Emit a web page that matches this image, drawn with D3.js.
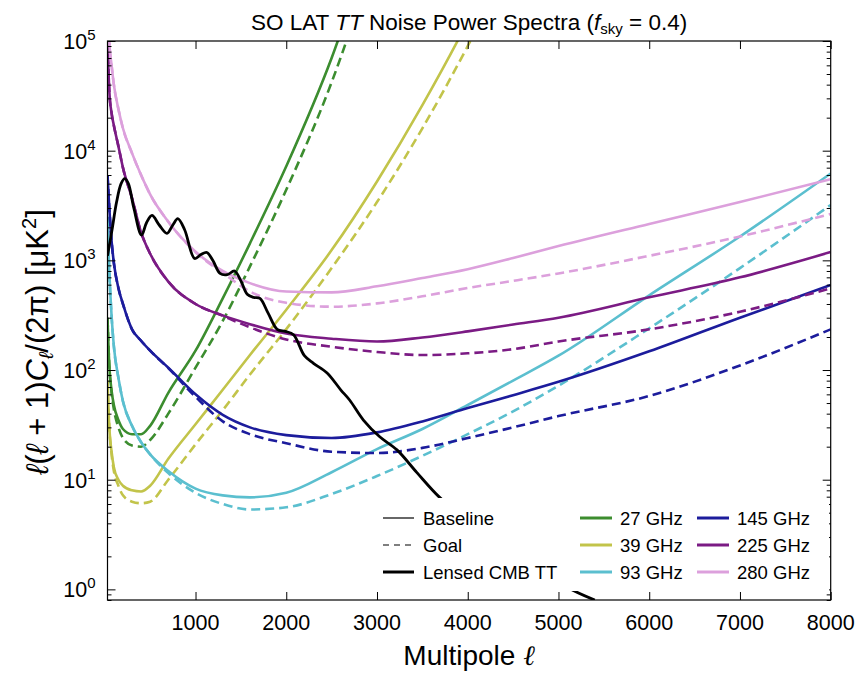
<!DOCTYPE html>
<html>
<head>
<meta charset="utf-8">
<script src="https://cdn.jsdelivr.net/npm/d3@7"></script>
<style>
  body { margin: 0; background: #fff; }
  text { font-family: "Liberation Sans", Arial, sans-serif; }
</style>
</head>
<body>
<div id="my_datavis"></div>
<script>
var ell = [30, 50, 75, 100, 150, 200, 300, 400, 500, 700, 1000, 1300, 1600, 2000, 2500, 3000, 3500, 4000, 4500, 5000, 6000, 7000, 8000];

var n27Base  = [300, 110, 65, 48, 35, 29, 26, 26, 31, 62, 150, 450, 1430, 7200, 70000, 1.2e6, null, null, null, null, null, null, null];
var n27Goal  = [300, 110, 62, 44, 30, 24, 20.5, 20, 23, 40, 105, 280, 880, 4400, 42000, 7e5, null, null, null, null, null, null, null];
var n39Base  = [80, 30, 18, 13, 10, 8.8, 8.0, 7.8, 8.8, 15.5, 32, 66, 137, 355, 1240, 5240, 26000, 152000, 1.2e6, null, null, null, null];
var n39Goal  = [80, 30, 17, 12, 8.8, 7.2, 6.3, 6.1, 6.3, 10, 21, 43, 91, 236, 850, 3400, 16000, 90000, 6e5, null, null, null, null];
var n93Base  = [2500, 800, 310, 165, 85, 52, 31, 22, 17, 12, 8.3, 7.2, 6.9, 7.6, 11.7, 19, 29, 48, 80, 135, 480, 1650, 6200];
var n93Goal  = [2500, 800, 310, 165, 85, 52, 31, 22, 17, 11.5, 7.6, 6.0, 5.35, 5.6, 7.4, 10.8, 16.5, 26, 42, 72, 240, 850, 3200];
var n145Base = [6000, 3000, 1500, 950, 560, 400, 235, 185, 150, 105, 60, 39, 30, 25.5, 24, 27, 34, 45, 59, 78, 148, 300, 595];
var n145Goal = [6000, 3000, 1500, 950, 560, 400, 235, 185, 150, 104, 57, 34, 26, 21.5, 18, 17.5, 19.5, 24, 30, 38, 58, 110, 235];
var n225Base = [1e5, 35000, 22000, 17000, 11000, 7000, 3700, 1800, 1150, 640, 400, 315, 262, 215, 193, 182, 198, 225, 260, 300, 460, 700, 1190];
var n225Goal = [1e5, 35000, 22000, 17000, 11000, 7000, 3700, 1800, 1150, 640, 400, 312, 245, 190, 163, 146, 137, 142, 155, 182, 235, 340, 556];
var n280Base = [2e5, 95000, 60000, 40000, 24000, 16000, 9500, 6000, 4000, 2250, 1200, 800, 620, 520, 510, 580, 690, 830, 1050, 1350, 2150, 3400, 5500];
var n280Goal = [2e5, 95000, 60000, 40000, 24000, 16000, 9500, 6000, 4000, 2250, 1190, 770, 520, 410, 378, 405, 470, 560, 650, 760, 1100, 1650, 2650];

// lensed CMB TT spectrum
var cmbEll = [30, 80, 130, 180, 220, 260, 320, 405, 460, 520, 600, 685, 750, 805, 880, 990, 1060, 1125, 1190, 1270, 1350, 1430, 1500, 1570, 1640, 1710, 1800, 1900, 1990, 2080, 2200, 2300, 2450, 2600, 2700, 2850, 3030, 3220, 3440, 3690, 4000, 4500, 5100, 5400];
var cmbDl  = [1100, 1900, 3400, 5000, 5550, 5000, 3000, 1700, 2200, 2570, 2100, 1760, 2100, 2400, 1900, 1040, 1130, 1180, 1000, 760, 740, 800, 650, 490, 460, 450, 330, 235, 225, 210, 135, 115, 94, 66, 53, 35, 24.6, 18.7, 11.6, 6.9, 4.2, 2.2, 1.04, 0.8];

var freqs   = ["27 GHz", "39 GHz", "93 GHz", "145 GHz", "225 GHz", "280 GHz"];
var colors  = ["#3c8d2f", "#c2c44a", "#5bbfcf", "#1c1c9c", "#7b1b84", "#dca0dc"];
var baseline = [n27Base, n39Base, n93Base, n145Base, n225Base, n280Base];
var goal     = [n27Goal, n39Goal, n93Goal, n145Goal, n225Goal, n280Goal];

var xTicks = [1000, 2000, 3000, 4000, 5000, 6000, 7000, 8000];
var yDecades = [0, 1, 2, 3, 4, 5];

var margin = { top: 41, bottom: 73, left: 107.5, right: 29.3 },
  width = 860 - margin.left - margin.right,
  height = 673 - margin.top - margin.bottom;

var root = d3.select("#my_datavis")
  .append("svg")
  .attr("width", 860)
  .attr("height", 673);

var svg = root.append("g")
  .attr("transform", "translate(" + margin.left + "," + margin.top + ")");

var x = d3.scaleLinear().domain([30, 8000]).range([0, width]);
var y = d3.scaleLog().domain([0.8, 1e5]).range([height, 0]);

svg.append("clipPath").attr("id", "clip")
  .append("rect").attr("width", width).attr("height", height);

var line = d3.line()
  .defined(function(d) { return d[1] != null })
  .curve(d3.curveMonotoneX)
  .x(function(d) { return x(d[0]) })
  .y(function(d) { return y(d[1]) });

var cmbLine = d3.line()
  .curve(d3.curveCatmullRom.alpha(0.5))
  .x(function(d) { return x(d[0]) })
  .y(function(d) { return y(d[1]) });

var plot = svg.append("g").attr("clip-path", "url(#clip)");

function pairs(xs, ys) {
  return xs.map(function(v, i) { return [v, ys[i]] });
}

freqs.forEach(function(f, i) {
  plot.append("path")
    .datum(pairs(ell, baseline[i]))
    .attr("fill", "none")
    .attr("stroke", colors[i])
    .attr("stroke-width", 2.6)
    .attr("d", line);
  plot.append("path")
    .datum(pairs(ell, goal[i]))
    .attr("fill", "none")
    .attr("stroke", colors[i])
    .attr("stroke-width", 2.6)
    .attr("stroke-dasharray", "9,5")
    .attr("d", line);
});

plot.append("path")
  .datum(pairs(cmbEll, cmbDl))
  .attr("fill", "none")
  .attr("stroke", "#000")
  .attr("stroke-width", 2.8)
  .attr("stroke-linejoin", "round")
  .attr("d", cmbLine);

// axes: ticks point inward on all four sides
var minor = [];
yDecades.forEach(function(d) {
  for (var k = 2; k <= 9; k++) minor.push(k * Math.pow(10, d - 1));
});
minor = minor.filter(function(v) { return v >= 0.8 && v <= 1e5 });
var major = yDecades.map(function(d) { return Math.pow(10, d) });

function tickAxis(axis, vals, size) {
  return axis.tickValues(vals).tickSize(size).tickFormat("");
}

svg.append("g").attr("transform", "translate(0," + height + ")")
  .call(tickAxis(d3.axisBottom(x), xTicks, -8));
svg.append("g")
  .call(tickAxis(d3.axisTop(x), xTicks, -8));
svg.append("g").call(tickAxis(d3.axisLeft(y), major, -8));
svg.append("g").call(tickAxis(d3.axisLeft(y), minor, -4));
svg.append("g").attr("transform", "translate(" + width + ",0)")
  .call(tickAxis(d3.axisRight(y), major, -8));
svg.append("g").attr("transform", "translate(" + width + ",0)")
  .call(tickAxis(d3.axisRight(y), minor, -4));
svg.selectAll(".domain").remove();
svg.selectAll(".tick line").attr("stroke", "#000").attr("stroke-width", 1);

svg.append("rect")
  .attr("width", width).attr("height", height)
  .attr("fill", "none").attr("stroke", "#000").attr("stroke-width", 1.2);

// tick labels
svg.selectAll(".xlab").data(xTicks).enter().append("text")
  .attr("x", function(d) { return x(d) })
  .attr("y", height + 30)
  .attr("text-anchor", "middle")
  .attr("font-size", 21.5)
  .text(function(d) { return d });

var ylab = svg.selectAll(".ylab").data(yDecades).enter().append("text")
  .attr("x", -12)
  .attr("y", function(d) { return y(Math.pow(10, d)) + 8 })
  .attr("text-anchor", "end")
  .attr("font-size", 21.5);
ylab.append("tspan").text("10");
ylab.append("tspan").attr("dy", -9).attr("font-size", 15).text(function(d) { return d });

// legend with white box over the curves
var lg = root.append("g");
lg.append("rect")
  .attr("x", 372).attr("y", 498).attr("width", 457).attr("height", 93)
  .attr("fill", "#fff");

var legCol1 = [
  { label: "Baseline", width: 1.2, dash: null },
  { label: "Goal", width: 1.2, dash: "6,5" },
  { label: "Lensed CMB TT", width: 3, dash: null }
];
var rowY = [518, 545, 572];

legCol1.forEach(function(d, i) {
  lg.append("line")
    .attr("x1", 383).attr("x2", 414).attr("y1", rowY[i]).attr("y2", rowY[i])
    .attr("stroke", "#000").attr("stroke-width", d.width)
    .attr("stroke-dasharray", d.dash);
  lg.append("text")
    .attr("x", 423).attr("y", rowY[i] + 6.5)
    .attr("font-size", 18.5)
    .text(d.label);
});

freqs.forEach(function(f, i) {
  var cx = i < 3 ? 580 : 697;
  var r = rowY[i % 3];
  lg.append("line")
    .attr("x1", cx).attr("x2", cx + 32).attr("y1", r).attr("y2", r)
    .attr("stroke", colors[i]).attr("stroke-width", 3);
  lg.append("text")
    .attr("x", cx + 40).attr("y", r + 6.5)
    .attr("font-size", 18.5)
    .text(f);
});

// title
var title = root.append("text")
  .attr("x", margin.left + width / 2)
  .attr("y", 30)
  .attr("text-anchor", "middle")
  .attr("font-size", 22.5);
title.append("tspan").text("SO LAT ");
title.append("tspan").attr("font-style", "italic").text("TT");
title.append("tspan").text(" Noise Power Spectra (");
title.append("tspan").attr("font-style", "italic").text("f");
title.append("tspan").attr("font-size", 15).attr("dy", 4).text("sky");
title.append("tspan").attr("dy", -4).text(" = 0.4)");

// x label
var xl = root.append("text")
  .attr("x", margin.left + width / 2)
  .attr("y", 665)
  .attr("text-anchor", "middle")
  .attr("font-size", 28);
xl.append("tspan").text("Multipole ");
xl.append("tspan").attr("font-family", "DejaVu Serif").attr("font-style", "italic").text("ℓ");

// y label, centred by its measured length
var yl = root.append("text")
  .attr("transform", "translate(48,342) rotate(-90)")
  .attr("font-size", 31)
  .attr("font-family", "DejaVu Serif");
yl.append("tspan").attr("font-style", "italic").text("ℓ");
yl.append("tspan").text("(");
yl.append("tspan").attr("font-style", "italic").text("ℓ");
yl.append("tspan").text(" + 1)");
yl.append("tspan").attr("font-style", "italic").text("C");
yl.append("tspan").attr("font-style", "italic").attr("font-size", 20).attr("dy", 5).text("ℓ");
yl.append("tspan").attr("dy", -5).text("/(2π) [μK");
yl.append("tspan").attr("font-size", 20).attr("dy", -12).text("2");
yl.append("tspan").attr("dy", 12).text("]");
var ylLen = yl.node().getComputedTextLength();
yl.attr("x", -ylLen / 2);
</script>
</body>
</html>
